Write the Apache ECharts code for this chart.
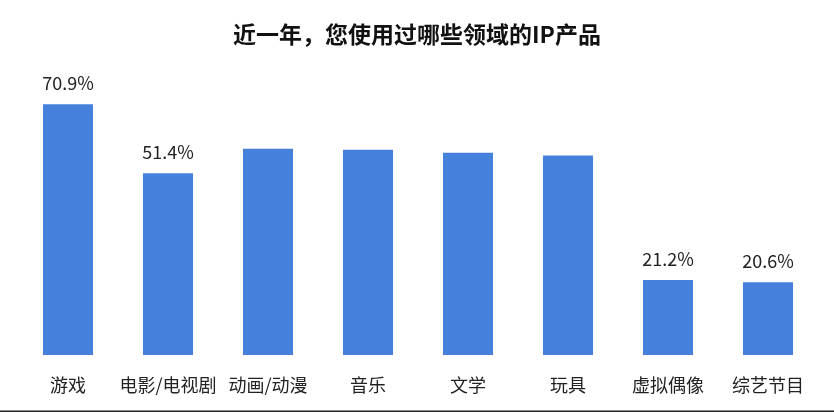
<!DOCTYPE html>
<html>
<head>
<meta charset="utf-8">
<script src="https://cdn.jsdelivr.net/npm/echarts@6/dist/echarts.min.js"></script>
<style>
html,body{margin:0;padding:0;background:#fff;}
#chart{width:834px;height:412px;}
</style>
</head>
<body>
<div id="chart"></div>
<script>
const categories = ['游戏', '电影/电视剧', '动画/动漫', '音乐', '文学', '玩具', '虚拟偶像', '综艺节目'];
const values = [70.9, 51.4, 58.3, 58.0, 57.2, 56.4, 21.2, 20.6];
const showLabel = [true, true, false, false, false, false, true, true];
const titleText = '近一年，您使用过哪些领域的IP产品';

const chart = echarts.init(document.getElementById('chart'), null, {renderer: 'canvas'});
const font = '"Noto Sans CJK SC", "Noto Sans", sans-serif';
chart.setOption({
  animation: false,
  backgroundColor: '#ffffff',
  title: {
    text: titleText,
    left: 'center',
    top: 18,
    textStyle: {fontFamily: font, fontSize: 23, fontWeight: 'bold', color: '#111'}
  },
  grid: {left: 18, right: 16, top: 72, bottom: 57, containLabel: false},
  xAxis: {
    type: 'category',
    data: categories,
    axisLine: {show: false},
    axisTick: {show: false},
    axisLabel: {fontFamily: font, fontSize: 18, color: '#222', margin: 21, interval: 0}
  },
  yAxis: {type: 'value', min: 0, max: 80, show: false, splitLine: {show: false}},
  series: [{
    type: 'bar',
    barWidth: '50%',
    data: values.map((v, i) => ({
      value: v,
      label: {show: showLabel[i]}
    })),
    itemStyle: {color: '#4580dc'},
    label: {
      position: 'top',
      distance: 12,
      fontFamily: font,
      fontSize: 18,
      color: '#222',
      formatter: p => p.value.toFixed(1) + '%'
    }
  }],
  graphic: [{
    type: 'rect',
    left: 0, bottom: 0,
    shape: {width: 834, height: 1.5},
    style: {fill: '#222'}
  }]
});
</script>
</body>
</html>
